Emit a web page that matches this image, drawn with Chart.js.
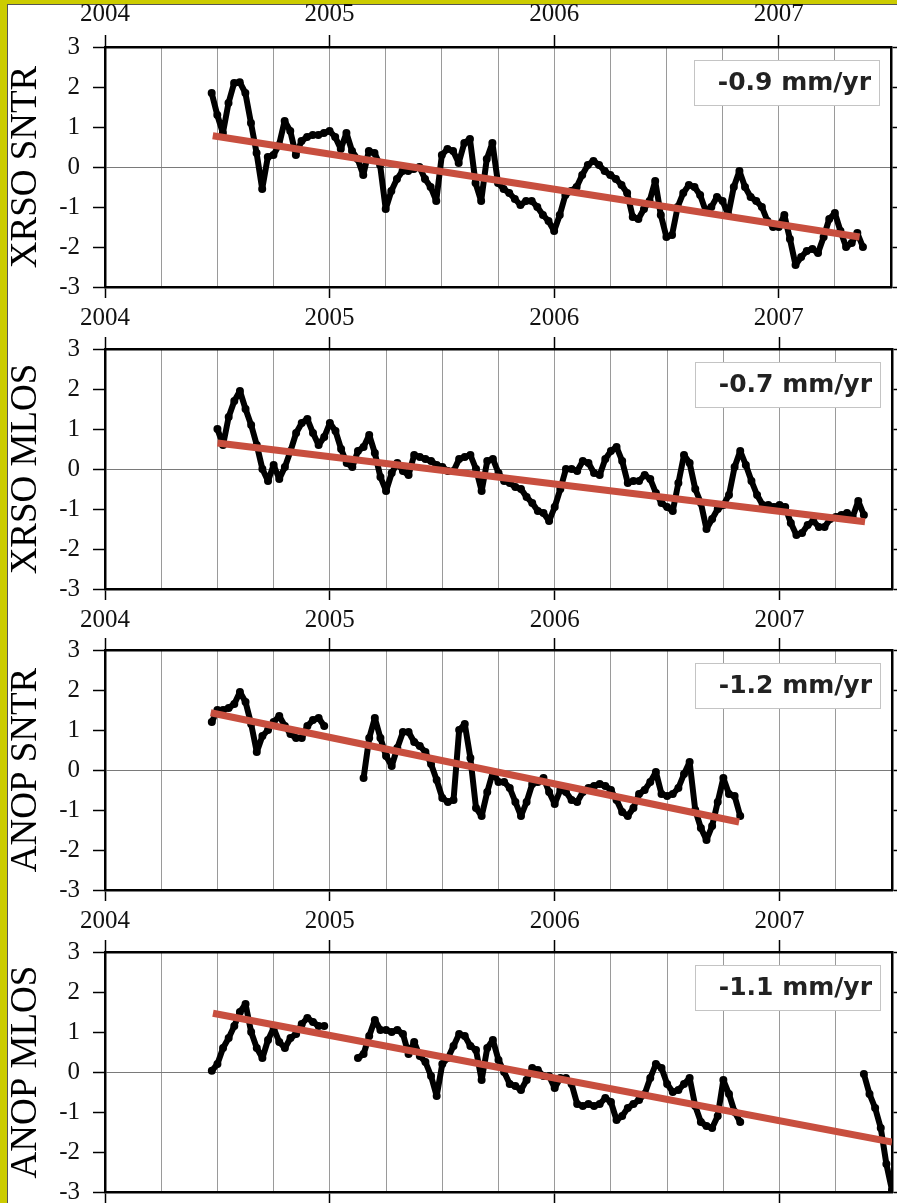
<!DOCTYPE html>
<html>
<head>
<meta charset="utf-8">
<title>GPS station time series</title>
<script src="https://cdn.jsdelivr.net/npm/chart.js@4.4.0/dist/chart.umd.min.js"></script>
<style>
  html, body { margin: 0; padding: 0; }
  body { width: 897px; height: 1203px; overflow: hidden; background: #cccc00; position: relative; }
  #paper { position: absolute; left: 7px; top: 4px; right: 0; bottom: 0; background: #fff;
           border-left: 1px solid #555; border-top: 1px solid #555; }
  canvas { position: absolute; left: 0; }
</style>
</head>
<body>
<div id="paper"></div>
<canvas id="c0" width="897" height="332" style="top:0px"></canvas>
<canvas id="c1" width="897" height="332" style="top:302px"></canvas>
<canvas id="c2" width="897" height="332" style="top:603px"></canvas>
<canvas id="c3" width="897" height="332" style="top:905px"></canvas>
<script>
// Panel names and fitted rates
const panelTitles = ['XRSO SNTR', 'XRSO MLOS', 'ANOP SNTR', 'ANOP MLOS'];
const rateLabels = ['-0.9 mm/yr', '-0.7 mm/yr', '-1.2 mm/yr', '-1.1 mm/yr'];
const yearTicks = [2004, 2005, 2006, 2007];
const valueTicks = [-3, -2, -1, 0, 1, 2, 3];

// Readings every 0.025 yr, starting at these dates (null = no data)
const sampleStep = 0.025;
const startYears = [2004.475, 2004.5, 2004.475, 2004.475];

const xrsoSntr = [
  1.85, 1.3, 0.85, 1.6, 2.1, 2.12, 1.85, 1.1, 0.35, -0.55,
  0.25, 0.3, 0.55, 1.15, 0.9, 0.3, 0.65, 0.75, 0.8, 0.8,
  0.85, 0.9, 0.75, 0.45, 0.85, 0.4, 0.2, -0.2, 0.4, 0.35,
  0.05, -1.05, -0.6, -0.3, -0.1, -0.1, -0.05, 0.0, -0.3, -0.5,
  -0.85, 0.3, 0.45, 0.4, 0.1, 0.6, 0.7, -0.4, -0.85, 0.2,
  0.6, -0.4, -0.55, -0.65, -0.8, -0.95, -0.85, -0.85, -1.0, -1.2,
  -1.35, -1.6, -1.2, -0.7, -0.6, -0.5, -0.2, 0.05, 0.15, 0.05,
  -0.1, -0.2, -0.3, -0.45, -0.65, -1.25, -1.3, -1.05, -0.85, -0.35,
  -1.2, -1.75, -1.7, -1.0, -0.65, -0.45, -0.5, -0.7, -1.1, -1.0,
  -0.75, -0.85, -1.2, -0.5, -0.1, -0.5, -0.75, -0.85, -1.0, -1.35,
  -1.5, -1.5, -1.2, -1.8, -2.45, -2.25, -2.1, -2.05, -2.15, -1.75,
  -1.3, -1.15, -1.6, -2.0, -1.9, -1.65, -2.0
];

const xrsoMlos = [
  1.0, 0.6, 1.3, 1.7, 1.95, 1.5, 1.1, 0.6, 0.0, -0.3,
  0.1, -0.25, 0.05, 0.45, 0.9, 1.15, 1.25, 0.9, 0.6, 0.8,
  1.15, 0.95, 0.5, 0.15, 0.05, 0.45, 0.55, 0.85, 0.4, -0.2,
  -0.55, -0.1, 0.15, -0.05, -0.15, 0.35, 0.3, 0.25, 0.2, 0.1,
  0.05, -0.05, -0.05, 0.25, 0.3, 0.35, 0.0, -0.55, 0.2, 0.25,
  -0.1, -0.3, -0.35, -0.45, -0.5, -0.7, -0.85, -1.05, -1.1, -1.3,
  -0.95, -0.5, 0.0, 0.0, -0.05, 0.2, 0.15, -0.1, -0.15, 0.25,
  0.45, 0.55, 0.2, -0.35, -0.3, -0.3, -0.15, -0.25, -0.6, -0.85,
  -0.95, -1.05, -0.35, 0.35, 0.15, -0.5, -0.85, -1.5, -1.25, -1.0,
  -0.9, -0.65, 0.05, 0.45, 0.1, -0.3, -0.65, -0.9, -0.9, -0.95,
  -0.9, -0.95, -1.35, -1.65, -1.6, -1.4, -1.3, -1.45, -1.45, -1.25,
  -1.2, -1.15, -1.1, -1.2, -0.8, -1.15
];

const anopSntr = [
  1.2, 1.5, 1.5, 1.55, 1.65, 1.95, 1.7, 1.15, 0.45, 0.85,
  1.0, 1.2, 1.35, 1.1, 0.9, 0.8, 0.8, 1.1, 1.25, 1.3,
  1.1, null, null, null, null, null, null, -0.2, 0.8, 1.3,
  0.8, 0.35, 0.1, 0.55, 0.95, 0.95, 0.7, 0.6, 0.45, 0.15,
  -0.25, -0.7, -0.8, -0.75, 1.0, 1.15, 0.3, -0.95, -1.15, -0.55,
  -0.05, -0.3, -0.3, -0.45, -0.8, -1.15, -0.8, -0.35, -0.3, -0.2,
  -0.55, -0.85, -0.5, -0.55, -0.75, -0.8, -0.55, -0.45, -0.4, -0.35,
  -0.4, -0.5, -0.75, -1.05, -1.15, -0.95, -0.6, -0.5, -0.3, -0.05,
  -0.6, -0.65, -0.6, -0.45, -0.1, 0.2, -1.0, -1.45, -1.75, -1.4,
  -0.8, -0.2, -0.6, -0.65, -1.15
];

const anopMlos = [
  0.03, 0.2, 0.6, 0.85, 1.15, 1.5, 1.7, 1.0, 0.6, 0.35,
  0.8, 1.1, 0.75, 0.6, 0.85, 0.95, 1.2, 1.35, 1.25, 1.15,
  1.15, null, null, null, null, null, 0.35, 0.45, 0.9, 1.3,
  1.05, 1.05, 1.0, 1.05, 0.95, 0.45, 0.75, 0.4, 0.25, -0.1,
  -0.6, 0.2, 0.35, 0.65, 0.95, 0.9, 0.65, 0.55, -0.2, 0.6,
  0.8, 0.3, 0.0, -0.3, -0.35, -0.45, -0.2, 0.1, 0.05, -0.1,
  -0.1, -0.4, -0.15, -0.15, -0.3, -0.8, -0.85, -0.8, -0.85, -0.8,
  -0.65, -0.75, -1.2, -1.1, -0.9, -0.8, -0.7, -0.55, -0.15, 0.2,
  0.1, -0.3, -0.5, -0.45, -0.3, -0.15, -0.85, -1.25, -1.35, -1.4,
  -1.1, -0.2, -0.55, -1.0, -1.25, null, null, null, null, null,
  null, null, null, null, null, null, null, null, null, null,
  null, null, null, null, null, null, -0.05, -0.55, -0.9, -1.4,
  -2.3, -2.95
];

const panelSeries = [xrsoSntr, xrsoMlos, anopSntr, anopMlos];

// Linear trend end points (year, value)
const trendYears = [[2004.48, 2007.36], [2004.5, 2007.38], [2004.47, 2006.82], [2004.48, 2007.5]];
const trendValues = [[0.78, -1.75], [0.65, -1.32], [1.43, -1.3], [1.47, -1.75]];

Chart.defaults.animation = false;
Chart.defaults.font.family = '"Liberation Serif", serif';

const TICK_FONT = { family: '"Liberation Serif", serif', size: 25, lineHeight: 1.2 };

function isYear(v) {
  const r = Math.round(v);
  return Math.abs(v - r) < 1e-6 && yearTicks.includes(r);
}
function yearLabel(v) {
  return isYear(v) ? String(Math.round(v)) : '';
}
function yearTickColor(c) {
  return c.tick && isYear(c.tick.value) ? '#000' : 'rgba(0,0,0,0)';
}

// white box with the fitted rate, upper right of each panel
const rateBox = {
  id: 'rateBox',
  afterDatasetsDraw(chart, args, opts) {
    const { ctx, chartArea } = chart;
    const left = chartArea.right - 197, right = chartArea.right - 12;
    const top = chartArea.top + 13, bottom = chartArea.top + 58;
    ctx.save();
    ctx.fillStyle = '#fff';
    ctx.fillRect(left, top, right - left, bottom - top);
    ctx.strokeStyle = '#c4c4c4';
    ctx.lineWidth = 1;
    ctx.strokeRect(left + 0.5, top + 0.5, right - left, bottom - top);
    ctx.font = 'bold 25px "DejaVu Sans", sans-serif';
    ctx.fillStyle = '#222';
    ctx.textAlign = 'right';
    ctx.textBaseline = 'middle';
    ctx.fillText(opts.text, chartArea.right - 20, chartArea.top + 36);
    ctx.restore();
  }
};

function makePanel(i) {
  const ctx = document.getElementById('c' + i).getContext('2d');
  const points = panelSeries[i].map((v, k) => ({ x: startYears[i] + k * sampleStep, y: v }));
  const trend = trendYears[i].map((x, k) => ({ x: x, y: trendValues[i][k] }));

  new Chart(ctx, {
    type: 'scatter',
    data: {
      datasets: [{
        label: 'fit',
        data: trend,
        showLine: true,
        borderColor: '#c84f3f',
        borderWidth: 7,
        pointRadius: 0,
        order: 0
      }, {
        label: panelTitles[i],
        data: points,
        showLine: true,
        spanGaps: false,
        borderColor: '#000',
        borderWidth: 6,
        borderJoinStyle: 'round',
        borderCapStyle: 'round',
        pointRadius: 4,
        pointBackgroundColor: '#000',
        pointBorderWidth: 0,
        order: 1
      }]
    },
    options: {
      responsive: false,
      devicePixelRatio: 1,
      layout: { padding: 0 },
      plugins: {
        legend: { display: false },
        tooltip: { enabled: false },
        rateBox: { text: rateLabels[i] }
      },
      scales: {
        x: {
          type: 'linear',
          position: 'bottom',
          min: 2004,
          max: 2007.5,
          afterFit: s => { s.height = 45; },
          border: { color: '#000', width: 2.5 },
          grid: {
            color: '#9a9a9a',
            lineWidth: 1,
            tickLength: 11,
            tickWidth: 1.5,
            tickColor: yearTickColor
          },
          ticks: {
            stepSize: 0.25,
            autoSkip: false,
            maxRotation: 0,
            padding: 5,
            color: '#111',
            font: TICK_FONT,
            callback: yearLabel
          }
        },
        xTop: {
          type: 'linear',
          position: 'top',
          min: 2004,
          max: 2007.5,
          afterFit: s => { s.height = 47; },
          border: { color: '#000', width: 2.5 },
          grid: {
            drawOnChartArea: false,
            tickLength: 12,
            tickWidth: 1.5,
            tickColor: yearTickColor
          },
          ticks: {
            display: i === 0,
            stepSize: 0.25,
            autoSkip: false,
            maxRotation: 0,
            padding: 6,
            color: '#111',
            font: TICK_FONT,
            callback: yearLabel
          }
        },
        y: {
          position: 'left',
          min: valueTicks[0],
          max: valueTicks[valueTicks.length - 1],
          afterFit: s => { s.width = 105; },
          border: { color: '#000', width: 2.5 },
          grid: {
            color: c => (c.tick && c.tick.value === 0 ? '#7a7a7a' : 'rgba(0,0,0,0)'),
            lineWidth: 1,
            tickLength: 12,
            tickWidth: 1.5,
            tickColor: '#000'
          },
          ticks: {
            stepSize: 1,
            padding: 13,
            color: '#111',
            font: TICK_FONT
          },
          title: {
            display: true,
            text: panelTitles[i],
            color: '#000',
            font: { family: '"Liberation Serif", serif', size: 37, lineHeight: 1 },
            padding: { top: 8, bottom: 0 }
          }
        },
        yRight: {
          position: 'right',
          min: valueTicks[0],
          max: valueTicks[valueTicks.length - 1],
          afterFit: s => { s.width = 4; },
          border: { color: '#000', width: 2.5 },
          grid: {
            drawOnChartArea: false,
            tickLength: 10,
            tickWidth: 1.5,
            tickColor: '#000'
          },
          ticks: { display: false, stepSize: 1 }
        }
      }
    },
    plugins: [rateBox]
  });
}

document.addEventListener('DOMContentLoaded', function() {
  for (let i = 0; i < panelSeries.length; i++) {
    makePanel(i);
  }
});
</script>
</body>
</html>
